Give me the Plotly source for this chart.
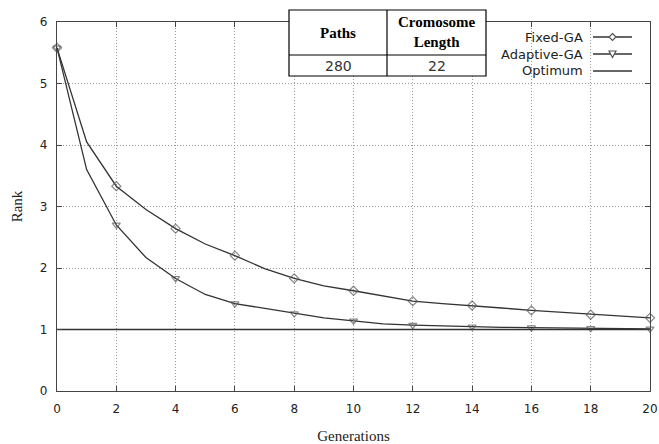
import plotly.graph_objects as go

generations = list(range(0, 21))
fixed_ga = [5.58, 4.05, 3.33, 2.95, 2.64, 2.39, 2.20, 1.99, 1.83, 1.71, 1.63,
            1.54, 1.46, 1.42, 1.39, 1.35, 1.31, 1.28, 1.24, 1.21, 1.19]
adaptive_ga = [5.58, 3.60, 2.70, 2.17, 1.83, 1.57, 1.42, 1.34, 1.26, 1.19, 1.14,
               1.09, 1.07, 1.055, 1.045, 1.035, 1.03, 1.025, 1.02, 1.015, 1.01]
optimum = [1.0] * 21
table_header = ["<b>Paths</b>", "<b>Cromosome<br>Length</b>"]
table_values = ["280", "22"]
legend_names = ["Fixed-GA", "Adaptive-GA", "Optimum"]

W, H = 659, 444
L, R, T, B = 57, 650, 22, 391

def px(x):
    return (x - L) / (R - L)

def py(y):
    return (B - y) / (B - T)

marker_sizes = [7 if g % 2 == 0 else 0 for g in generations]
line_col = "#333333"
mk_col = "#555555"

fig = go.Figure()
fig.add_trace(go.Scatter(x=generations, y=fixed_ga, mode="lines+markers", name=legend_names[0],
                         line=dict(color=line_col, width=1.3), cliponaxis=False,
                         marker=dict(symbol="diamond-open", size=marker_sizes, color=mk_col, line=dict(width=1.2))))
fig.add_trace(go.Scatter(x=generations, y=adaptive_ga, mode="lines+markers", name=legend_names[1],
                         line=dict(color=line_col, width=1.3), cliponaxis=False,
                         marker=dict(symbol="triangle-down-open", size=marker_sizes, color=mk_col, line=dict(width=1.2))))
fig.add_trace(go.Scatter(x=generations, y=optimum, mode="lines", name=legend_names[2],
                         line=dict(color=line_col, width=1.3)))

shapes = []
annotations = []

# Table
tx0, tx1, txm = 289, 486, 387
ty0, ty1, tym = 10, 76, 55
shapes.append(dict(type="rect", xref="paper", yref="paper", x0=px(tx0), x1=px(tx1), y0=py(ty1), y1=py(ty0),
                   line=dict(color="black", width=1.2), fillcolor="white", layer="above"))
shapes.append(dict(type="line", xref="paper", yref="paper", x0=px(txm), x1=px(txm), y0=py(ty1), y1=py(ty0),
                   line=dict(color="black", width=1.2), layer="above"))
shapes.append(dict(type="line", xref="paper", yref="paper", x0=px(tx0), x1=px(tx1), y0=py(tym), y1=py(tym),
                   line=dict(color="black", width=1.2), layer="above"))
serif = "Liberation Serif"
annotations.append(dict(xref="paper", yref="paper", x=px((tx0 + txm) / 2), y=py(33), text=table_header[0],
                        showarrow=False, font=dict(family=serif, size=15, color="black"), xanchor="center", yanchor="middle"))
annotations.append(dict(xref="paper", yref="paper", x=px((txm + tx1) / 2), y=py(32), text=table_header[1],
                        showarrow=False, font=dict(family=serif, size=15, color="black"), xanchor="center", yanchor="middle"))
for i, v in enumerate(table_values):
    cx = (tx0 + txm) / 2 if i == 0 else (txm + tx1) / 2
    annotations.append(dict(xref="paper", yref="paper", x=px(cx), y=py(66), text=v, showarrow=False,
                            font=dict(family="DejaVu Sans", size=14, color="#333"), xanchor="center", yanchor="middle"))

# Custom legend (text right, sample right)
leg_rows = [37, 54, 71]
for i, name in enumerate(legend_names):
    yy = leg_rows[i]
    annotations.append(dict(xref="paper", yref="paper", x=px(585), y=py(yy), text=name, showarrow=False,
                            font=dict(family="DejaVu Sans", size=13, color="#222"), xanchor="right", yanchor="middle"))
    shapes.append(dict(type="line", xref="paper", yref="paper", x0=px(593), x1=px(632), y0=py(yy), y1=py(yy),
                       line=dict(color=line_col, width=1.3), layer="above"))
cx, s = 612.5, 3.5
yy = leg_rows[0]
shapes.append(dict(type="path", xref="paper", yref="paper",
                   path=f"M {px(cx)} {py(yy - s)} L {px(cx + s)} {py(yy)} L {px(cx)} {py(yy + s)} L {px(cx - s)} {py(yy)} Z",
                   line=dict(color=mk_col, width=1.2), fillcolor="white", layer="above"))
yy = leg_rows[1]
shapes.append(dict(type="path", xref="paper", yref="paper",
                   path=f"M {px(cx - s)} {py(yy - s + 0.5)} L {px(cx + s)} {py(yy - s + 0.5)} L {px(cx)} {py(yy + s)} Z",
                   line=dict(color=mk_col, width=1.2), fillcolor="white", layer="above"))

axis_common = dict(showline=True, linecolor="#444", linewidth=1.3, mirror="allticks", ticks="inside",
                   ticklen=5, tickcolor="#444", showgrid=True, gridcolor="#999999", griddash="1px,2px",
                   gridwidth=1, zeroline=False, automargin=False,
                   tickfont=dict(family="DejaVu Sans", size=12, color="#222"))

fig.update_layout(
    width=W, height=H,
    margin=dict(l=L, r=W - R, t=T, b=H - B),
    paper_bgcolor="white", plot_bgcolor="white",
    showlegend=False,
    shapes=shapes, annotations=annotations,
    xaxis=dict(range=[0, 20], tickvals=list(range(0, 21, 2)), ticklabelstandoff=6,
               title=dict(text="Generations", font=dict(family=serif, size=15, color="#222"), standoff=16),
               **axis_common),
    yaxis=dict(range=[0, 6], tickvals=list(range(0, 7)), ticklabelstandoff=6,
               title=dict(text="Rank", font=dict(family=serif, size=15, color="#222"), standoff=13),
               **axis_common),
)

fig.write_html("out.html", config={"displayModeBar": False},
               post_script="document.body.style.margin='0';document.body.style.overflow='hidden';")
